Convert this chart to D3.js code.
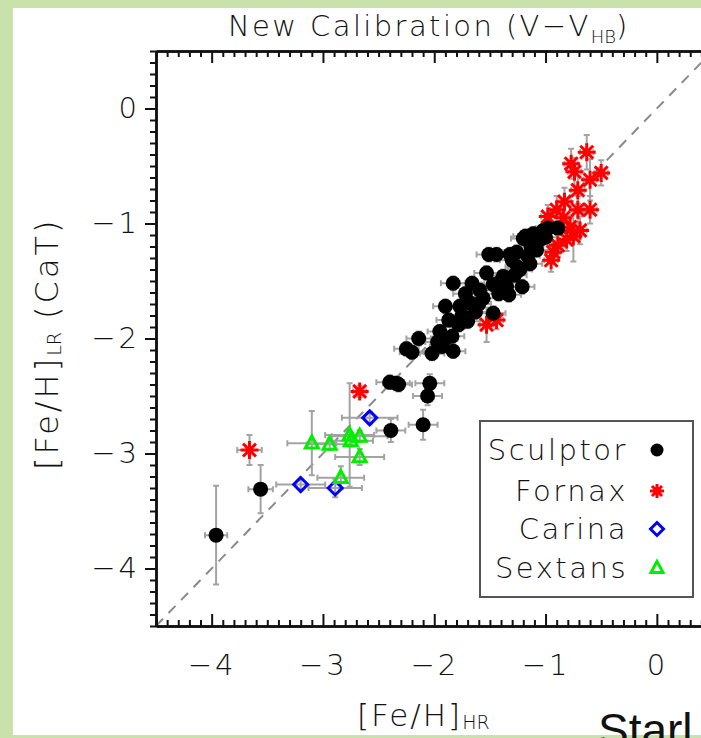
<!DOCTYPE html>
<html>
<head>
<meta charset="utf-8">
<script src="https://cdn.jsdelivr.net/npm/d3@7"></script>
<style>
  body { margin: 0; background: #c9e2ab; }
  text { font-family: "DejaVu Sans", sans-serif; font-weight: 200; fill: #111; }
</style>
</head>
<body>
<div id="scatter"></div>
<script>
var svgWidth = 701;
var svgHeight = 738;

var margin = { top: 51, left: 156 };
var plotWidth = 556.5;
var plotHeight = 575;

// [Fe/H]_HR, [Fe/H]_LR, x error, y error
var sculptor = [
  [-3.96, -3.71, 0.10, 0.43], [-3.56, -3.31, 0.11, 0.21],
  [-2.40, -2.38, 0.12, 0.06], [-2.34, -2.39, 0.12, 0.06], [-2.32, -2.40, 0.12, 0.06],
  [-2.04, -2.39, 0.13, 0.08], [-2.06, -2.50, 0.13, 0.08], [-2.10, -2.75, 0.13, 0.13],
  [-2.39, -2.80, 0.13, 0.10],
  [-2.25, -2.09, 0.11, 0.06], [-2.14, -2.00, 0.11, 0.06], [-2.02, -2.13, 0.11, 0.06],
  [-1.93, -2.07, 0.11, 0.06], [-1.83, -2.11, 0.11, 0.06], [-1.84, -1.98, 0.11, 0.06],
  [-1.95, -1.94, 0.11, 0.06], [-1.87, -1.84, 0.11, 0.06], [-1.78, -1.88, 0.11, 0.06],
  [-1.63, -1.77, 0.11, 0.06], [-1.90, -1.72, 0.11, 0.06], [-1.77, -1.72, 0.11, 0.06],
  [-1.83, -1.52, 0.11, 0.06], [-1.66, -1.52, 0.11, 0.06], [-1.72, -1.61, 0.11, 0.06],
  [-1.68, -1.69, 0.11, 0.06], [-1.59, -1.58, 0.11, 0.06], [-1.53, -1.43, 0.11, 0.06],
  [-1.47, -1.53, 0.11, 0.06], [-1.42, -1.61, 0.11, 0.06], [-1.33, -1.62, 0.11, 0.06],
  [-1.51, -1.27, 0.11, 0.06], [-1.38, -1.46, 0.11, 0.06], [-1.30, -1.32, 0.11, 0.06],
  [-1.23, -1.40, 0.11, 0.06], [-1.21, -1.55, 0.11, 0.06], [-1.26, -1.25, 0.11, 0.06],
  [-1.18, -1.11, 0.11, 0.06], [-1.14, -1.35, 0.11, 0.06], [-1.08, -1.23, 0.11, 0.06],
  [-1.05, -1.14, 0.11, 0.06], [-1.47, -1.78, 0.11, 0.06], [-1.20, -1.13, 0.11, 0.06],
  [-1.11, -1.09, 0.11, 0.06], [-0.98, -1.04, 0.11, 0.06], [-0.89, -1.04, 0.11, 0.06],
  [-1.32, -1.27, 0.11, 0.06], [-1.44, -1.27, 0.11, 0.06], [-2.20, -2.12, 0.11, 0.06],
  [-1.97, -2.03, 0.11, 0.06], [-1.75, -1.80, 0.11, 0.06], [-1.56, -1.65, 0.11, 0.06],
  [-1.40, -1.50, 0.11, 0.06], [-1.28, -1.45, 0.11, 0.06], [-1.16, -1.28, 0.11, 0.06],
  [-1.10, -1.18, 0.11, 0.06], [-1.00, -1.12, 0.11, 0.06], [-1.25, -1.38, 0.11, 0.06],
  [-1.35, -1.55, 0.11, 0.06], [-1.60, -1.70, 0.11, 0.06], [-1.70, -1.85, 0.11, 0.06],
  [-1.90, -2.00, 0.11, 0.06], [-1.02, -1.06, 0.11, 0.06], [-1.13, -1.20, 0.11, 0.06]
];

var fornax = [
  [-0.63, -0.38, 0.06, 0.15], [-0.77, -0.48, 0.06, 0.13], [-0.74, -0.55, 0.06, 0.12],
  [-0.50, -0.56, 0.06, 0.11], [-0.60, -0.62, 0.06, 0.18], [-0.71, -0.71, 0.06, 0.12],
  [-0.83, -0.81, 0.06, 0.12], [-0.60, -0.88, 0.06, 0.12], [-0.71, -0.88, 0.06, 0.12],
  [-0.90, -0.88, 0.06, 0.12], [-0.98, -0.94, 0.06, 0.10], [-0.84, -0.95, 0.06, 0.10],
  [-0.78, -1.03, 0.06, 0.10], [-0.69, -1.06, 0.06, 0.12], [-0.75, -1.11, 0.06, 0.22],
  [-0.81, -1.14, 0.06, 0.10], [-0.89, -1.19, 0.06, 0.10], [-0.93, -1.25, 0.06, 0.10],
  [-0.95, -1.32, 0.06, 0.10], [-1.53, -1.88, 0.06, 0.15], [-1.44, -1.84, 0.06, 0.08],
  [-2.67, -2.46, 0.06, 0.05], [-3.66, -2.97, 0.11, 0.13]
];

var carina = [
  [-3.20, -3.27, 0.22, 0.04], [-2.89, -3.30, 0.24, 0.08], [-2.58, -2.69, 0.25, 0.05]
];

var sextans = [
  [-3.10, -2.91, 0.22, 0.28], [-2.94, -2.92, 0.20, 0.05], [-2.76, -2.84, 0.22, 0.45],
  [-2.75, -2.89, 0.20, 0.05], [-2.67, -2.85, 0.25, 0.05], [-2.67, -3.03, 0.22, 0.07],
  [-2.84, -3.21, 0.21, 0.10]
];

var majorTicks = [-4, -3, -2, -1, 0];
var legendNames = ["Sculptor", "Fornax", "Carina", "Sextans"];

var svg = d3.select("#scatter")
  .append("svg")
  .attr("width", svgWidth)
  .attr("height", svgHeight)
  .style("display", "block");

// white slide panel
svg.append("rect")
  .attr("x", 13).attr("y", 8)
  .attr("width", svgWidth - 13).attr("height", 727)
  .attr("fill", "white");

var chart = svg.append("g")
  .attr("transform", `translate(${margin.left}, ${margin.top})`);

var xScale = d3.scaleLinear().domain([-4.5, 0.5]).range([0, plotWidth]);
var yScale = d3.scaleLinear().domain([-4.5, 0.5]).range([plotHeight, 0]);

var minorTicks = d3.range(-45, 6).map(i => i / 10).filter(v => Math.abs(v - Math.round(v)) > 1e-6);

chart.append("clipPath").attr("id", "plotclip")
  .append("rect").attr("width", plotWidth).attr("height", plotHeight);

// one-to-one line
chart.append("line")
  .attr("clip-path", "url(#plotclip)")
  .attr("x1", xScale(-4.5)).attr("y1", yScale(-4.5))
  .attr("x2", xScale(0.5)).attr("y2", yScale(0.5))
  .attr("stroke", "#8a8a8a")
  .attr("stroke-width", 2)
  .attr("stroke-dasharray", "10,8");

// error bars
var allStars = [].concat(fornax, sculptor, carina, sextans);
var errG = chart.append("g")
  .attr("stroke", "#a3a3a3")
  .attr("stroke-width", 2)
  .attr("fill", "none");
allStars.forEach(function(d) {
  var cx = xScale(d[0]), cy = yScale(d[1]);
  var x0 = xScale(d[0] - d[2]), x1 = xScale(d[0] + d[2]);
  var y0 = yScale(d[1] - d[3]), y1 = yScale(d[1] + d[3]);
  errG.append("path").attr("d",
    `M${x0},${cy}H${x1}M${x0},${cy - 3}V${cy + 3}M${x1},${cy - 3}V${cy + 3}` +
    `M${cx},${y0}V${y1}M${cx - 3},${y0}H${cx + 3}M${cx - 3},${y1}H${cx + 3}`);
});

// symbols
function asterisk(sel, s) {
  sel.append("path")
    .attr("d", `M${-s},0H${s}M0,${-s}V${s}M${-s * 0.72},${-s * 0.72}L${s * 0.72},${s * 0.72}M${-s * 0.72},${s * 0.72}L${s * 0.72},${-s * 0.72}`)
    .attr("stroke", "#ff0000").attr("stroke-width", 3).attr("fill", "none");
}
function diamond(sel, s) {
  sel.append("path")
    .attr("d", `M0,${-s}L${s},0L0,${s}L${-s},0Z`)
    .attr("stroke", "#0000ff").attr("stroke-width", 3).attr("fill", "none");
}
function triangle(sel, s) {
  sel.append("path")
    .attr("d", `M0,${-s * 1.1}L${s},${s * 0.75}L${-s},${s * 0.75}Z`)
    .attr("stroke", "#00ee00").attr("stroke-width", 3).attr("fill", "none")
    .attr("stroke-linejoin", "miter");
}
function dot(sel, s) {
  sel.append("circle").attr("r", s).attr("fill", "black");
}

function drawSeries(data, marker, size) {
  chart.append("g").selectAll("g")
    .data(data).enter()
    .append("g")
    .attr("transform", d => `translate(${xScale(d[0])},${yScale(d[1])})`)
    .each(function() { marker(d3.select(this), size); });
}
drawSeries(fornax, asterisk, 9);
drawSeries(sculptor, dot, 7.5);
drawSeries(carina, diamond, 7);
drawSeries(sextans, triangle, 6.5);

// axes
function styleAxis(g) {
  g.select(".domain").attr("stroke", "#111").attr("stroke-width", 2.5);
  g.selectAll(".tick line").attr("stroke", "#111").attr("stroke-width", 2);
  g.selectAll("text")
    .style("font-size", "29px")
    .style("font-family", "'DejaVu Sans', sans-serif")
    .style("font-weight", 200)
    .style("letter-spacing", "3px")
    .attr("fill", "#111");
}
var fmt = d3.format("d");

chart.append("g")
  .attr("transform", `translate(0, ${plotHeight})`)
  .call(d3.axisBottom(xScale).tickValues(minorTicks).tickSize(-6).tickFormat("").tickSizeOuter(0))
  .call(styleAxis);
chart.append("g")
  .attr("transform", `translate(0, ${plotHeight})`)
  .call(d3.axisBottom(xScale).tickValues(majorTicks).tickSize(-12).tickPadding(28).tickFormat(fmt).tickSizeOuter(0))
  .call(styleAxis);

chart.append("g")
  .call(d3.axisTop(xScale).tickValues(minorTicks).tickSize(-6).tickFormat("").tickSizeOuter(0))
  .call(styleAxis);
chart.append("g")
  .call(d3.axisTop(xScale).tickValues(majorTicks).tickSize(-12).tickFormat("").tickSizeOuter(0))
  .call(styleAxis);

chart.append("g")
  .call(d3.axisLeft(yScale).tickValues(minorTicks).tickSize(6).tickFormat("").tickSizeOuter(0))
  .call(styleAxis);
chart.append("g")
  .call(d3.axisLeft(yScale).tickValues(majorTicks).tickSize(11).tickPadding(5).tickFormat(fmt).tickSizeOuter(0))
  .call(styleAxis);

chart.append("line")
  .attr("x1", plotWidth).attr("x2", plotWidth)
  .attr("y1", 0).attr("y2", plotHeight)
  .attr("stroke", "#111").attr("stroke-width", 2.5);

// legend
var legend = svg.append("g").attr("transform", "translate(480, 421)");
legend.append("rect")
  .attr("width", 213).attr("height", 176)
  .attr("fill", "white").attr("stroke", "#555").attr("stroke-width", 2);
var markers = [dot, asterisk, diamond, triangle];
var mSizes = [6.5, 7, 6.5, 6];
var rowY = [29, 70, 108, 147];
legendNames.forEach(function(name, i) {
  legend.append("text")
    .attr("x", 148).attr("y", rowY[i])
    .attr("dy", "0.36em")
    .attr("text-anchor", "end")
    .style("font-size", "29px")
    .style("letter-spacing", "2.5px")
    .text(name);
  var m = legend.append("g").attr("transform", `translate(177, ${rowY[i]})`);
  markers[i](m, mSizes[i]);
});

// titles
var title = svg.append("text")
  .attr("x", 228).attr("y", 36)
  .style("font-size", "29px")
  .style("letter-spacing", "2.4px");
title.append("tspan").text("New Calibration (V\u2212V");
title.append("tspan").attr("dy", 7).style("font-size", "18px").style("letter-spacing", "0px").text("HB");
title.append("tspan").attr("dy", -7).text(")");

var xLabel = svg.append("text")
  .attr("x", 357).attr("y", 726)
  .style("font-size", "31px")
  .style("letter-spacing", "2px");
xLabel.append("tspan").text("[Fe/H]");
xLabel.append("tspan").attr("dy", 3).style("font-size", "19px").style("letter-spacing", "0px").text("HR");

var yLabel = svg.append("text")
  .attr("transform", "translate(58, 470) rotate(-90)")
  .style("font-size", "32px")
  .style("letter-spacing", "3px");
yLabel.append("tspan").text("[Fe/H]");
yLabel.append("tspan").attr("dy", 3).style("font-size", "19px").style("letter-spacing", "0px").text("LR");
yLabel.append("tspan").attr("dy", -3).text(" (CaT)");

svg.append("text")
  .attr("x", 598).attr("y", 746)
  .style("font-family", "'Liberation Sans', Arial, sans-serif")
  .style("font-weight", 400)
  .style("font-size", "46px")
  .attr("fill", "black")
  .text("Starl");

</script>
</body>
</html>
